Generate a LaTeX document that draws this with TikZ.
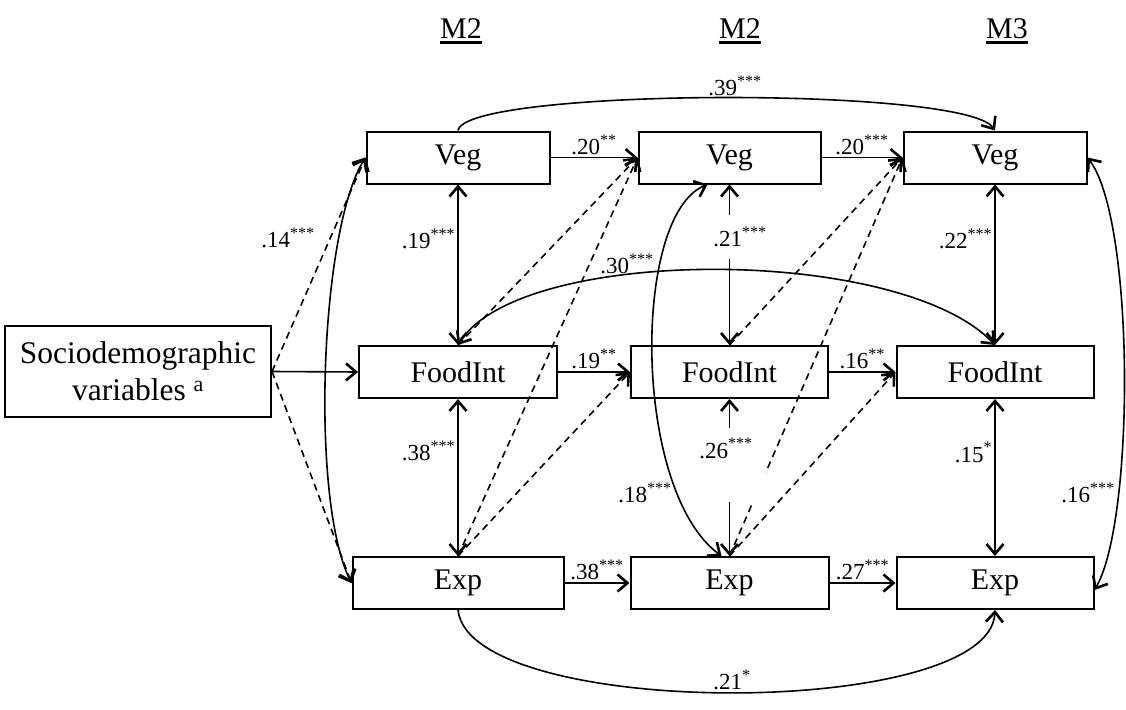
\documentclass[tikz,border=0pt]{standalone}
\usepackage{fontspec}
\setmainfont{Liberation Serif}
\usetikzlibrary{arrows.meta,calc}
\newcommand{\varfont}{\fontsize{30}{36}\selectfont}
\newcommand{\coeffont}{\fontsize{23}{26}\selectfont}
\newcommand{\coef}[2]{.#1\textsuperscript{#2}}

\begin{document}
\begin{tikzpicture}[x=1pt,y=-1pt,
  >={Straight Barb[length=10pt,width=17pt,line width=2.6pt]},
  var/.style={draw,line width=2pt,minimum height=52pt,inner sep=0pt,font=\varfont},
  link/.style={line width=1.6pt},
  dlink/.style={line width=1.6pt,dash pattern=on 7pt off 5pt},
  coef/.style={font=\coeffont,inner sep=2pt},
  wave/.style={font=\varfont,anchor=base,inner sep=0pt}]
\useasboundingbox (0,0) rectangle (1126,709);

% waves
\node[wave] (w1) at (461,38) {M2};
\node[wave] (w2) at (740,38) {M2};
\node[wave] (w3) at (1007,38) {M3};
\foreach \w in {w1,w2,w3}
\draw[line width=3pt] ([yshift=-4.5pt]\w.base west) -- ([yshift=-4.5pt]\w.base east);

% variables
\node[var,minimum width=266pt,minimum height=91pt,align=center,font=\fontsize{31.5}{37}\selectfont] (socio) at (138,371.5) {Sociodemographic\\variables \textsuperscript{a}};
\node[var,minimum width=183pt] (veg1) at (458,157.5) {Veg};
\node[var,minimum width=182pt] (veg2) at (729.5,157.5) {Veg};
\node[var,minimum width=183pt] (veg3) at (995,157.5) {Veg};
\node[var,minimum width=198pt] (food1) at (458,372) {FoodInt};
\node[var,minimum width=197pt] (food2) at (729.5,372) {FoodInt};
\node[var,minimum width=197pt] (food3) at (995,372) {FoodInt};
\node[var,minimum width=211pt] (exp1) at (458,583) {Exp};
\node[var,minimum width=198pt] (exp2) at (729.5,583) {Exp};
\node[var,minimum width=197pt] (exp3) at (995,583) {Exp};

% cross-lagged paths
\draw[dlink,->] (socio.east) -- (veg1.west);
\draw[dlink,->] (socio.east) -- (exp1.west);
\draw[dlink,->] (food1.north) -- (veg2.west);
\draw[dlink,->] (exp1.north) -- (veg2.west);
\draw[dlink,->] (exp1.north) -- (food2.west);
\draw[dlink,->] (food2.north) -- (veg3.west);
\draw[dlink,->] (exp2.north) -- (veg3.west);
\draw[dlink,->] (exp2.north) -- (food3.west);

% autoregressive paths
\draw[link,->] (socio.east) -- (food1.west);
\draw[link,->] (veg1) -- (veg2) node[midway,above,coef] (b-veg12) {\coef{20}{**}};
\draw[link,->] (veg2) -- (veg3) node[midway,above,coef] (b-veg23) {\coef{20}{***}};
\draw[link,->] (food1) -- (food2) node[midway,above,coef] (b-food12) {\coef{19}{**}};
\draw[link,->] (food2) -- (food3) node[midway,above,coef] (b-food23) {\coef{16}{**}};
\draw[link,->] (exp1) -- (exp2) node[midway,above,coef] (b-exp12) {\coef{38}{***}};
\draw[link,->] (exp2) -- (exp3) node[midway,above,coef] (b-exp23) {\coef{27}{***}};

% within-wave correlations
\draw[link,<->] (veg1) -- (food1) node[pos=.34,left,coef] (r-vf1) {\coef{19}{***}};
\draw[link,<->] (food1) -- (exp1) node[pos=.33,left,coef] (r-fe1) {\coef{38}{***}};
\draw[link,<->] (veg3) -- (food3) node[pos=.34,left,coef] (r-vf3) {\coef{22}{***}};
\draw[link,<->] (food3) -- (exp3) node[pos=.34,left,coef] (r-fe3) {\coef{15}{*}};
\draw[link,<->] (veg2) -- (food2);
\node[coef,fill=white,minimum height=44pt] (r-vf2) at (740,237) {\coef{21}{***}};
\draw[link,<->] (food2) -- (exp2);
\node[coef,anchor=base,fill=white,inner sep=0pt,text height=30pt,text depth=44pt,minimum width=80pt] (r-fe2) at (726,458) {\coef{26}{***}};

% curved paths
\draw[link,<->] (veg1.west) .. controls (320,230) and (310,500) .. (exp1.west);
\node[coef] (r-ve1) at (288,238) {\coef{14}{***}};
\draw[link,<->] (veg3.east) .. controls (1135,220) and (1135,520) .. ([yshift=-7pt]exp3.east);
\node[coef] (r-ve3) at (1088,493) {\coef{16}{***}};
\draw[link,<->] ([xshift=-22pt]veg2.south) .. controls (632,215) and (632,490) .. ([xshift=-8pt]exp2.north);
\node[coef] (r-ve2) at (645,493) {\coef{18}{***}};
\draw[link,->] (veg1.north) .. controls (465,88) and (965,86) .. (veg3.north);
\node[coef] (b-veg13) at (735,86) {\coef{39}{***}};
\draw[link,<->] (food1.north) .. controls (520,245) and (900,245) .. (food3.north);
\node[coef] (b-food13) at (627,264) {\coef{30}{***}};
\draw[link,->] (exp1.south) .. controls (470,720) and (990,720) .. (exp3.south);
\node[coef] (b-exp13) at (732,680) {\coef{21}{*}};
\end{tikzpicture}
\end{document}
